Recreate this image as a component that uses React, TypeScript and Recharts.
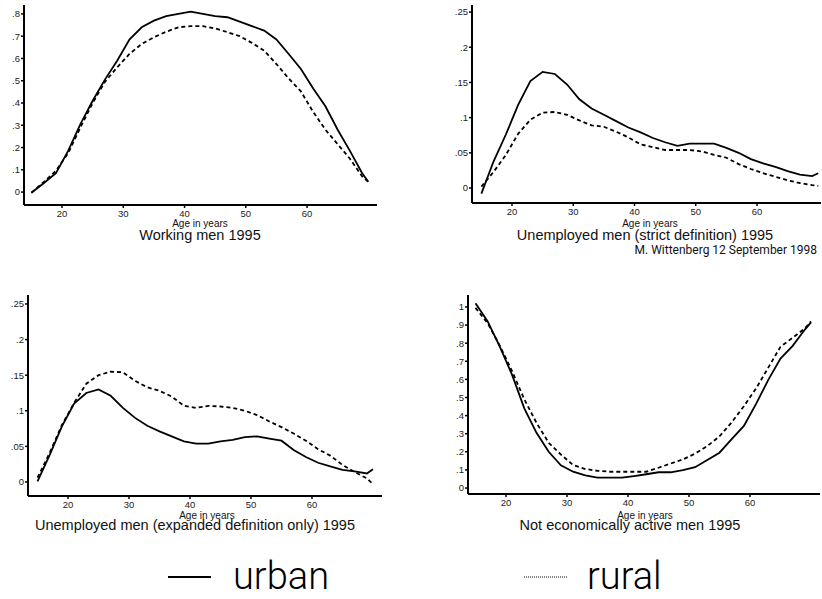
import { LineChart, Line, XAxis, YAxis } from 'recharts';

// age grid shared by all four panels
const ages = [15, 17, 19, 21, 23, 25, 27, 29, 31, 33, 35, 37, 39, 41, 43, 45, 47, 49, 51, 53, 55, 57, 59, 61, 63, 65, 67, 69, 70];

const workingUrban = [-0.003, 0.04, 0.085, 0.185, 0.305, 0.41, 0.505, 0.59, 0.685, 0.74, 0.77, 0.79, 0.8, 0.81, 0.8, 0.79, 0.785, 0.765, 0.745, 0.725, 0.685, 0.62, 0.553, 0.465, 0.385, 0.28, 0.185, 0.085, 0.046];
const workingRural = [-0.003, 0.045, 0.095, 0.175, 0.29, 0.4, 0.495, 0.56, 0.62, 0.665, 0.695, 0.72, 0.74, 0.745, 0.745, 0.735, 0.718, 0.7, 0.67, 0.635, 0.575, 0.51, 0.452, 0.36, 0.28, 0.215, 0.15, 0.07, 0.046];

const strictUrban = [-0.008, 0.038, 0.076, 0.118, 0.152, 0.165, 0.162, 0.147, 0.126, 0.113, 0.104, 0.095, 0.086, 0.079, 0.071, 0.065, 0.06, 0.063, 0.063, 0.063, 0.057, 0.05, 0.041, 0.035, 0.03, 0.024, 0.019, 0.017, 0.021];
const strictRural = [0.002, 0.023, 0.047, 0.077, 0.097, 0.107, 0.108, 0.104, 0.096, 0.089, 0.087, 0.08, 0.072, 0.062, 0.058, 0.054, 0.054, 0.054, 0.052, 0.047, 0.043, 0.034, 0.027, 0.021, 0.016, 0.011, 0.007, 0.004, 0.003];

const expandedUrban = [0.001, 0.038, 0.078, 0.11, 0.125, 0.13, 0.121, 0.104, 0.09, 0.079, 0.071, 0.064, 0.057, 0.054, 0.054, 0.057, 0.059, 0.063, 0.064, 0.061, 0.058, 0.045, 0.035, 0.027, 0.022, 0.017, 0.015, 0.012, 0.018];
const expandedRural = [0.006, 0.041, 0.08, 0.111, 0.138, 0.15, 0.155, 0.154, 0.142, 0.133, 0.128, 0.12, 0.107, 0.104, 0.107, 0.106, 0.104, 0.1, 0.094, 0.085, 0.077, 0.068, 0.058, 0.046, 0.037, 0.024, 0.014, 0.005, -0.003];

const inactiveUrban = [1.02, 0.92, 0.78, 0.625, 0.44, 0.305, 0.2, 0.125, 0.09, 0.07, 0.057, 0.057, 0.057, 0.066, 0.076, 0.087, 0.087, 0.099, 0.115, 0.155, 0.195, 0.27, 0.343, 0.465, 0.597, 0.715, 0.785, 0.875, 0.915];
const inactiveRural = [0.995, 0.91, 0.785, 0.645, 0.49, 0.36, 0.25, 0.185, 0.127, 0.105, 0.095, 0.09, 0.09, 0.09, 0.09, 0.112, 0.135, 0.158, 0.19, 0.232, 0.285, 0.363, 0.452, 0.55, 0.665, 0.78, 0.83, 0.882, 0.92];

const xTicks = [20, 30, 40, 50, 60];
const shareTicks = [0, 0.05, 0.1, 0.15, 0.2, 0.25];
const workingTicks = [0, 0.1, 0.2, 0.3, 0.4, 0.5, 0.6, 0.7, 0.8];
const inactiveTicks = [0, 0.1, 0.2, 0.3, 0.4, 0.5, 0.6, 0.7, 0.8, 0.9, 1];

const toRows = (urban: number[], rural: number[]) =>
  ages.map((age, i) => ({ age, urban: urban[i], rural: rural[i] }));

// stata style: drop the leading zero
const fmt = (v: number) => (v === 0 ? '0' : v < 1 ? String(v).replace(/^0/, '') : String(v));

const tickFont = { fill: '#222', fontSize: 9.5, fontFamily: 'Liberation Sans, Arial, sans-serif' };

interface PanelProps {
  rows: { age: number; urban: number; rural: number }[];
  left: number;
  top: number;
  width: number;
  height: number;
  marginTop: number;
  yWidth: number;
  xDomain: [number, number];
  yDomain: [number, number];
  yTicks: number[];
}

function Panel({ rows, left, top, width, height, marginTop, yWidth, xDomain, yDomain, yTicks }: PanelProps) {
  return (
    <div style={{ position: 'absolute', left, top }}>
      <LineChart width={width} height={height} data={rows} margin={{ top: marginTop, right: 2, bottom: 0, left: 0 }}>
        <XAxis
          dataKey="age"
          type="number"
          domain={xDomain}
          ticks={xTicks}
          allowDataOverflow
          height={20}
          tick={tickFont}
          tickSize={3}
          tickMargin={2}
          axisLine={{ stroke: '#000', strokeWidth: 2 }}
          tickLine={{ stroke: '#000', strokeWidth: 1.5 }}
        />
        <YAxis
          type="number"
          domain={yDomain}
          ticks={yTicks}
          allowDataOverflow
          width={yWidth}
          tick={tickFont}
          tickFormatter={fmt}
          tickSize={3}
          tickMargin={1}
          axisLine={{ stroke: '#000', strokeWidth: 2 }}
          tickLine={{ stroke: '#000', strokeWidth: 1.5 }}
        />
        <Line type="linear" dataKey="urban" stroke="#000" strokeWidth={1.8} dot={false} isAnimationActive={false} />
        <Line type="linear" dataKey="rural" stroke="#000" strokeWidth={1.8} strokeDasharray="4 3" dot={false} isAnimationActive={false} />
      </LineChart>
    </div>
  );
}

const labelFont = 'Liberation Sans, Arial, sans-serif';

export default function App() {
  return (
    <div style={{ position: 'absolute', left: 0, top: 0, width: 822, height: 599, background: '#fff' }}>
      <Panel rows={toRows(workingUrban, workingRural)} left={0} top={0} width={379} height={225} marginTop={5} yWidth={24}
        xDomain={[13.79, 71.42]} yDomain={[-0.058, 0.84]} yTicks={workingTicks} />
      <Panel rows={toRows(strictUrban, strictRural)} left={430} top={0} width={393} height={223} marginTop={5} yWidth={42}
        xDomain={[13.47, 70.45]} yDomain={[-0.0213, 0.26]} yTicks={shareTicks} />
      <Panel rows={toRows(expandedUrban, expandedRural)} left={0} top={285} width={384} height={231} marginTop={10} yWidth={28}
        xDomain={[13.44, 71.48]} yDomain={[-0.0197, 0.2626]} yTicks={shareTicks} />
      <Panel rows={toRows(inactiveUrban, inactiveRural)} left={430} top={285} width={392} height={229} marginTop={10} yWidth={38}
        xDomain={[13.77, 71.48]} yDomain={[-0.033, 1.066]} yTicks={inactiveTicks} />

      <svg width={822} height={599} style={{ position: 'absolute', left: 0, top: 0, pointerEvents: 'none' }}>
        <g fontFamily={labelFont} fill="#111" textAnchor="middle">
          <text x={200} y={227} fontSize={10}>Age in years</text>
          <text x={650} y={227} fontSize={10}>Age in years</text>
          <text x={207} y={519} fontSize={10}>Age in years</text>
          <text x={645} y={519} fontSize={10}>Age in years</text>
          <text x={200} y={240} fontSize={14.5}>Working men 1995</text>
          <text x={645} y={240} fontSize={14.5}>Unemployed men (strict definition) 1995</text>
          <text x={195} y={530} fontSize={14.5}>Unemployed men (expanded definition only) 1995</text>
          <text x={630} y={530} fontSize={14.5}>Not economically active men 1995</text>
        </g>
        <text x={817} y={254} fontSize={12} fontFamily="Roboto, sans-serif" textAnchor="end" fill="#111">
          M. Wittenberg 12 September 1998
        </text>
        <line x1={168} y1={577} x2={211} y2={577} stroke="#000" strokeWidth={2} />
        <text x={233} y={589} fontSize={38} fontFamily="Roboto, sans-serif" fontWeight={300} fill="#000">urban</text>
        <line x1={524} y1={577} x2={567} y2={577} stroke="#000" strokeWidth={1} strokeDasharray="1 1" />
        <text x={587} y={589} fontSize={38} fontFamily="Roboto, sans-serif" fontWeight={300} fill="#000">rural</text>
      </svg>
    </div>
  );
}
